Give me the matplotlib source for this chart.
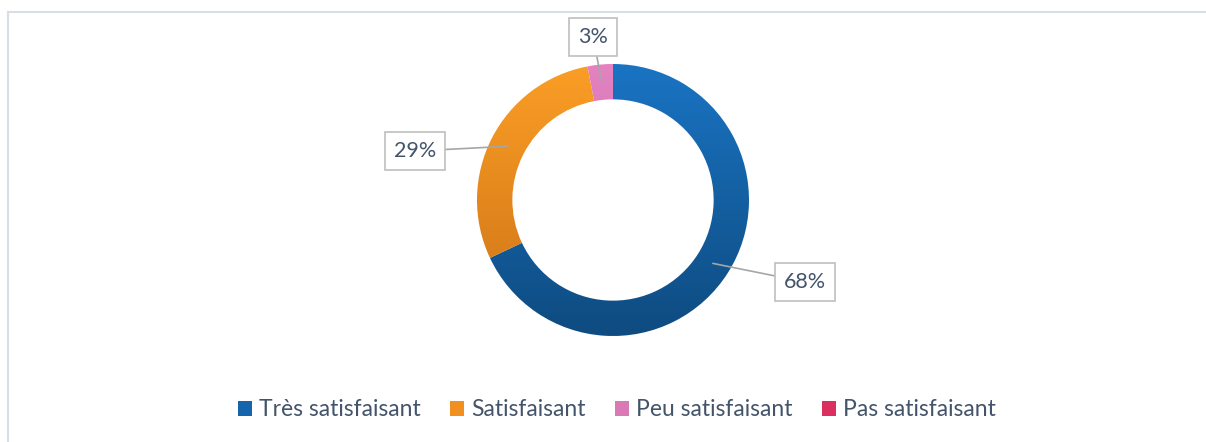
"""
Donut chart: niveau de satisfaction (recreated).
"""
import numpy as np
import matplotlib
matplotlib.use("Agg")
import matplotlib.pyplot as plt
from matplotlib.colors import LinearSegmentedColormap
from matplotlib.patches import Patch
from matplotlib.lines import Line2D

# Data
categories = ["Très satisfaisant", "Satisfaisant", "Peu satisfaisant", "Pas satisfaisant"]
values = [68, 29, 3, 0]
labels = ["68%", "29%", "3%", ""]

# gradient colours (top, bottom) per category
grad_top = ["#1A74C3", "#FB9E26", "#E482C2", "#E8376F"]
grad_bot = ["#0E4B80", "#CC7216", "#B8679A", "#C02A58"]
legend_colors = ["#1565AC", "#F18F20", "#D97AB5", "#D9305F"]

text_color = "#44546A"
leader_color = "#A6A6A6"

W, H = 1206, 442
cx, cy, r_px = 613, 200, 136   # centre / radius in pixels

plt.rcParams["font.family"] = ["Lato", "DejaVu Sans"]

fig = plt.figure(figsize=(W / 100, H / 100), dpi=100)
ax = fig.add_axes([0, 0, 1, 1])

ring = 0.26
wedges, _ = ax.pie(values, startangle=90, counterclock=False, radius=1,
                   wedgeprops=dict(width=ring, linewidth=0), colors=legend_colors)

# vertical gradient fill clipped to each wedge
grad = np.linspace(1, 0, 256).reshape(-1, 1)
for w, top, bot in zip(wedges, grad_top, grad_bot):
    cmap = LinearSegmentedColormap.from_list("g", [bot, top])
    im = ax.imshow(grad, cmap=cmap, extent=[-1, 1, -1, 1], origin="upper",
                   aspect="auto", zorder=2)
    im.set_clip_path(w)
    w.set_facecolor("none")

ax.set_xlim(-cx / r_px, (W - cx) / r_px)
ax.set_ylim(-(H - cy) / r_px, cy / r_px)
ax.set_aspect("equal")
ax.axis("off")

# data labels with callout boxes
label_pos = {0: (1.412, -0.603), 1: (-1.456, 0.360), 2: (-0.147, 1.199)}
total = sum(values)
start = 90.0
for i, (v, lab) in enumerate(zip(values, labels)):
    span = 360.0 * v / total
    mid = np.deg2rad(start - span / 2)
    start -= span
    if not lab:
        continue
    rr = 1 - ring / 2
    ax.annotate(lab, xy=(rr * np.cos(mid), rr * np.sin(mid)), xytext=label_pos[i],
                ha="center", va="center", fontsize=15.5, color=text_color, zorder=5,
                bbox=dict(boxstyle="square,pad=0.42", fc="white", ec="#BFBFBF", lw=1.2),
                arrowprops=dict(arrowstyle="-", color=leader_color, lw=1.2,
                                shrinkA=0, shrinkB=0))

handles = [Patch(facecolor=c, edgecolor="none") for c in legend_colors]
fig.legend(handles, categories, loc="center", bbox_to_anchor=(617 / W, 1 - 410 / H),
           ncol=4, frameon=False, fontsize=16.5, handlelength=0.6, handleheight=0.6,
           handletextpad=0.3, columnspacing=1.3, labelcolor=text_color)

# chart area border (top + left visible)
fig.add_artist(Line2D([8 / W, 1], [1 - 12 / H, 1 - 12 / H], transform=fig.transFigure,
                      color="#D9DEE5", lw=1.5))
fig.add_artist(Line2D([8 / W, 8 / W], [0, 1 - 12 / H], transform=fig.transFigure,
                      color="#D9DEE5", lw=1.5))

fig.savefig("out.png", dpi=100, facecolor="white")
